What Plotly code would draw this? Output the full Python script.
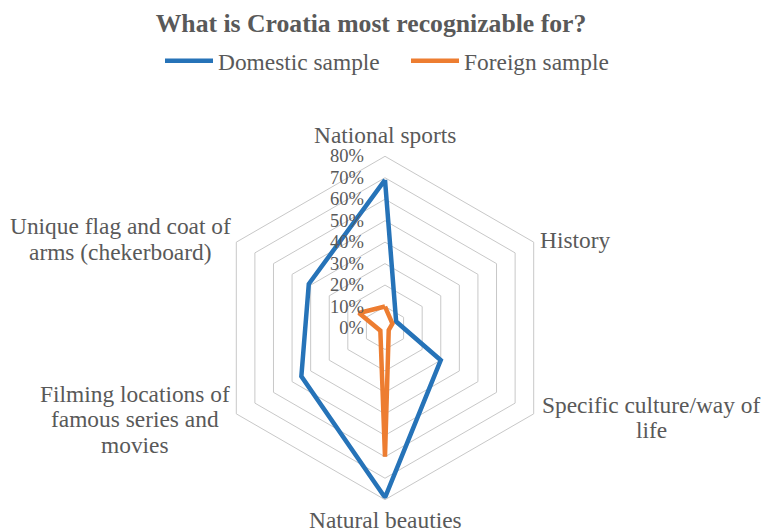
import plotly.graph_objects as go

# Survey answers: share of respondents per theme
categories = [
    "National sports",
    "History",
    "Specific culture/way of life",
    "Natural beauties",
    "Filming locations of famous series and movies",
    "Unique flag and coat of arms (chekerboard)",
]
# wrapped label lines for each theme
category_lines = [
    ["National sports"],
    ["History"],
    ["Specific culture/way of", "life"],
    ["Natural beauties"],
    ["Filming locations of", "famous series and", "movies"],
    ["Unique flag and coat of", "arms (chekerboard)"],
]
domestic = [0.69, 0.06, 0.30, 0.79, 0.45, 0.41]
foreign = [0.10, 0.04, 0.02, 0.60, 0.025, 0.14]

radial_ticks = [0, 0.1, 0.2, 0.3, 0.4, 0.5, 0.6, 0.7, 0.8]

W, H = 766, 532
TEXT = "#595959"
GRID = "#c8c8c8"
SERIF = "Liberation Serif"
LABEL_SIZE = 23.4
LINE_GAP = 25.5


def closed(vals):
    return list(vals) + [vals[0]]


fig = go.Figure()
fig.add_trace(go.Scatterpolar(
    r=closed(domestic), theta=closed(categories), mode="lines",
    name="Domestic sample", line=dict(color="#2673b8", width=4.5),
))
fig.add_trace(go.Scatterpolar(
    r=closed(foreign), theta=closed(categories), mode="lines",
    name="Foreign sample", line=dict(color="#ed7d31", width=4.5),
))

# polar area centred at (385, 328) with an 80% radius of ~172 px
cx, cy, rad = 385, 328, 171.7
fig.update_layout(
    width=W, height=H,
    margin=dict(l=0, r=0, t=0, b=0),
    paper_bgcolor="white", plot_bgcolor="white",
    font=dict(family=SERIF, color=TEXT, size=LABEL_SIZE),
    title=dict(
        text="<b>What is Croatia most recognizable for?</b>",
        x=371 / W, xanchor="center", y=1 - 23 / H, yanchor="middle",
        font=dict(family=SERIF, size=25.7, color=TEXT),
    ),
    legend=dict(
        orientation="h", x=160 / W, xanchor="left",
        y=1 - 61 / H, yanchor="middle",
        font=dict(family=SERIF, size=LABEL_SIZE, color=TEXT),
        itemwidth=48, entrywidth=183, entrywidthmode="pixels",
        bgcolor="rgba(0,0,0,0)",
    ),
    polar=dict(
        domain=dict(x=[(cx - rad) / W, (cx + rad) / W],
                    y=[1 - (cy + rad) / H, 1 - (cy - rad) / H]),
        gridshape="linear",
        bgcolor="white",
        radialaxis=dict(
            range=[0, 0.8], tickvals=radial_ticks, tickformat=".0%",
            angle=90, tickangle=90, side="counterclockwise",
            showline=False, ticks="outside", ticklen=14,
            tickcolor="rgba(0,0,0,0)",
            gridcolor=GRID, gridwidth=1,
            tickfont=dict(family=SERIF, size=18.5, color=TEXT),
        ),
        angularaxis=dict(
            rotation=90, direction="clockwise",
            showgrid=False, showticklabels=False, ticks="",
            showline=True, linecolor=GRID, linewidth=1,
        ),
    ),
)

# category labels around the web (block centres in px)
label_pos = [(385, 135), (575, 240), (651, 417.5), (385, 520), (135, 419), (120, 239)]
for lines, (px, py) in zip(category_lines, label_pos):
    top = py - (len(lines) - 1) * LINE_GAP / 2
    for i, line in enumerate(lines):
        fig.add_annotation(
            text=line, x=px / W, y=1 - (top + i * LINE_GAP) / H,
            xref="paper", yref="paper", xanchor="center", yanchor="middle",
            showarrow=False, font=dict(family=SERIF, size=LABEL_SIZE, color=TEXT),
        )

fig.write_html("out.html")
